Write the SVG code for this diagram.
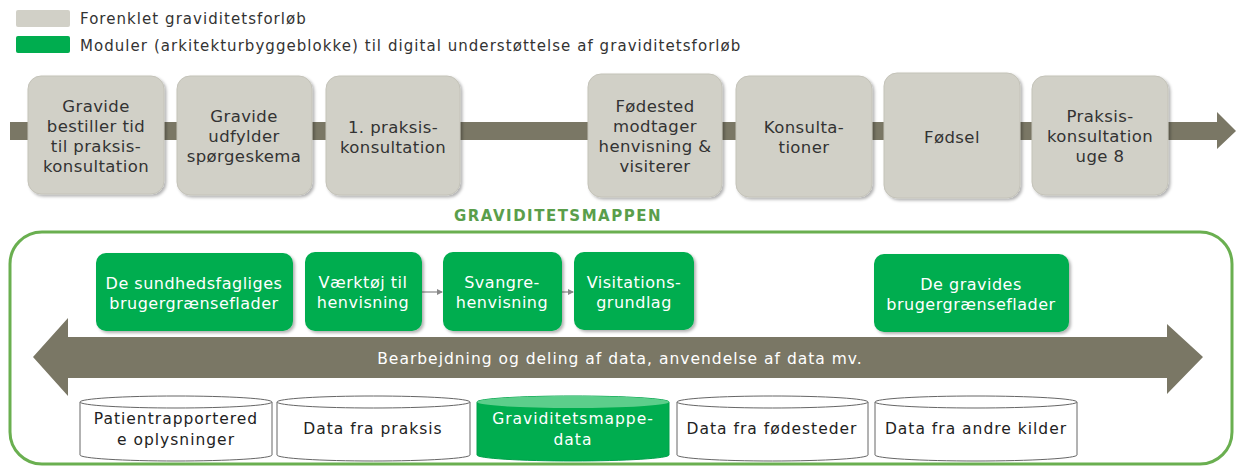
<svg xmlns="http://www.w3.org/2000/svg" width="1238" height="467" viewBox="0 0 1238 467">
<defs>
<style>
text{font-family:"DejaVu Sans","Liberation Sans",sans-serif;}
.leg{font-size:15px;fill:#333;letter-spacing:1.05px;}
.step rect{fill:#d1d0c7;stroke:#c4c3b9;stroke-width:1;}
.step text{font-size:16.5px;fill:#333;text-anchor:middle;letter-spacing:0.4px;}
.mod rect{fill:#00ad4f;}
.mod text{font-size:16px;fill:#fff;text-anchor:middle;letter-spacing:0.5px;}
.cyl path{fill:#fff;stroke:#666;stroke-width:1;}
.cyl text{font-size:15.5px;fill:#222;text-anchor:middle;letter-spacing:1px;}
.cylg path{fill:#00ad4f;stroke:#00a04a;stroke-width:1;}
.cylg ellipse{fill:#5cce8b;stroke:none;}
.cylg text{font-size:15.5px;fill:#fff;text-anchor:middle;letter-spacing:1px;}
.flow{fill:#7a7765;}
</style>
<filter id="sh" x="-10%" y="-10%" width="125%" height="125%">
<feDropShadow dx="2" dy="2" stdDeviation="1.5" flood-color="#000" flood-opacity="0.3"/>
</filter>
<marker id="sa" markerWidth="6" markerHeight="6" refX="5" refY="3" orient="auto" markerUnits="userSpaceOnUse">
<path d="M0,0 L6,3 L0,6 Z" fill="#888"/>
</marker>
</defs>
<rect width="1238" height="467" fill="#fff"/>

<g id="legend">
<rect x="16" y="10" width="54" height="17" rx="2" fill="#d1d0c7"/>
<text class="leg" x="80" y="24">Forenklet graviditetsforløb</text>
<rect x="16" y="36" width="54" height="17" rx="2" fill="#00ad4f"/>
<text class="leg" x="80" y="51">Moduler (arkitekturbyggeblokke) til digital understøttelse af graviditetsforløb</text>
</g>

<g id="connectors">
<path class="flow" d="M10,122 H1217 V112 L1236,131 L1217,149 V140 H10 Z"/>
<path class="flow" d="M33,357 L68,318 V337 H1167 V324 L1203,357 L1167,394 V378 H68 V396 Z"/>
<line x1="422" y1="292" x2="442" y2="292" stroke="#888" stroke-width="1.2" marker-end="url(#sa)"/>
<line x1="562" y1="292" x2="573" y2="292" stroke="#888" stroke-width="1.2" marker-end="url(#sa)"/>
<text x="620" y="364" style="font-size:15.5px;fill:#fff;text-anchor:middle;letter-spacing:1px;">Bearbejdning og deling af data, anvendelse af data mv.</text>
</g>

<g id="step1" class="step"><rect x="28" y="76" width="136" height="118" rx="13" filter="url(#sh)"/>
<text x="96" y="112">Gravide</text><text x="96" y="132">bestiller tid</text><text x="96" y="152">til praksis-</text><text x="96" y="172">konsultation</text></g>
<g id="step2" class="step"><rect x="177" y="76" width="135" height="119" rx="13" filter="url(#sh)"/>
<text x="244" y="122">Gravide</text><text x="244" y="142">udfylder</text><text x="244" y="162">spørgeskema</text></g>
<g id="step3" class="step"><rect x="326" y="76" width="134" height="119" rx="13" filter="url(#sh)"/>
<text x="393" y="133">1. praksis-</text><text x="393" y="153">konsultation</text></g>
<g id="step4" class="step"><rect x="588" y="74" width="134" height="123" rx="13" filter="url(#sh)"/>
<text x="655" y="112">Fødested</text><text x="655" y="132">modtager</text><text x="655" y="152">henvisning &amp;</text><text x="655" y="172">visiterer</text></g>
<g id="step5" class="step"><rect x="736" y="76" width="136" height="121" rx="13" filter="url(#sh)"/>
<text x="804" y="133">Konsulta-</text><text x="804" y="153">tioner</text></g>
<g id="step6" class="step"><rect x="884" y="73" width="136" height="125" rx="13" filter="url(#sh)"/>
<text x="952" y="143">Fødsel</text></g>
<g id="step7" class="step"><rect x="1032" y="76" width="136" height="119" rx="13" filter="url(#sh)"/>
<text x="1100" y="122">Praksis-</text><text x="1100" y="142">konsultation</text><text x="1100" y="162">uge 8</text></g>

<g id="graviditetsmappen">
<text x="558" y="221" style="font-size:15px;font-weight:bold;fill:#5a9e4b;text-anchor:middle;letter-spacing:1.5px;">GRAVIDITETSMAPPEN</text>
<rect x="10" y="232" width="1222" height="232" rx="32" fill="none" stroke="#6aaf50" stroke-width="3"/>
</g>

<g id="mod1" class="mod"><rect x="96" y="253" width="197" height="78" rx="10" filter="url(#sh)"/>
<text x="194" y="289">De sundhedsfagliges</text><text x="194" y="309">brugergrænseflader</text></g>
<g id="mod2" class="mod"><rect x="305" y="252" width="117" height="79" rx="10" filter="url(#sh)"/>
<text x="363" y="288">Værktøj til</text><text x="363" y="308">henvisning</text></g>
<g id="mod3" class="mod"><rect x="443" y="252" width="119" height="79" rx="10" filter="url(#sh)"/>
<text x="502" y="288">Svangre-</text><text x="502" y="308">henvisning</text></g>
<g id="mod4" class="mod"><rect x="574" y="252" width="120" height="78" rx="10" filter="url(#sh)"/>
<text x="634" y="288">Visitations-</text><text x="634" y="308">grundlag</text></g>
<g id="mod5" class="mod"><rect x="874" y="254" width="195" height="78" rx="10" filter="url(#sh)"/>
<text x="971" y="290">De gravides</text><text x="971" y="310">brugergrænseflader</text></g>

<g id="db1" class="cyl"><path d="M80,402 A96,6 0 0 1 272,402 V455 A96,6 0 0 1 80,455 Z"/><path d="M80,402 A96,6 0 0 0 272,402" fill="none"/>
<text x="176" y="424">Patientrapportered</text><text x="176" y="445">e oplysninger</text></g>
<g id="db2" class="cyl"><path d="M277,402 A96.5,6 0 0 1 470,402 V455 A96.5,6 0 0 1 277,455 Z"/><path d="M277,402 A96.5,6 0 0 0 470,402" fill="none"/>
<text x="373" y="434">Data fra praksis</text></g>
<g id="db3" class="cylg"><path d="M477,402 A96,6 0 0 1 669,402 V455 A96,6 0 0 1 477,455 Z"/><ellipse cx="573" cy="402" rx="96" ry="6"/>
<text x="573" y="424">Graviditetsmappe-</text><text x="573" y="445">data</text></g>
<g id="db4" class="cyl"><path d="M677,402 A95.5,6 0 0 1 868,402 V455 A95.5,6 0 0 1 677,455 Z"/><path d="M677,402 A95.5,6 0 0 0 868,402" fill="none"/>
<text x="772" y="434">Data fra fødesteder</text></g>
<g id="db5" class="cyl"><path d="M875,402 A101,6 0 0 1 1077,402 V455 A101,6 0 0 1 875,455 Z"/><path d="M875,402 A101,6 0 0 0 1077,402" fill="none"/>
<text x="976" y="434">Data fra andre kilder</text></g>
</svg>
